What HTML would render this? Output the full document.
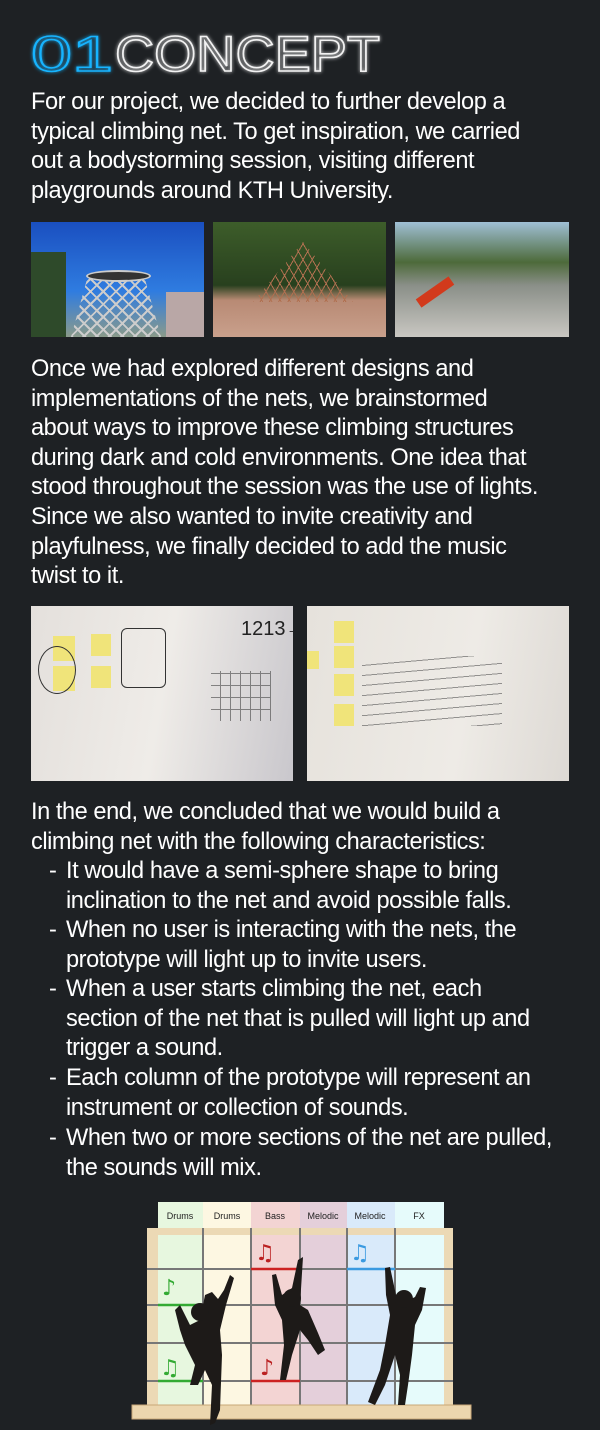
<!DOCTYPE html>
<html><head><meta charset="utf-8"><style>
*{margin:0;padding:0;box-sizing:border-box}
body{width:600px;height:1430px;background:#1e2124;position:relative;overflow:hidden;font-family:"Liberation Sans",sans-serif;color:#fff}
.t{position:absolute;left:31px;font-size:23.6px;line-height:29.6px;white-space:nowrap;letter-spacing:-0.45px;font-weight:normal}
.b{position:absolute;left:66px;font-size:23.6px;line-height:29.6px;white-space:nowrap;letter-spacing:-0.45px}
.b span{position:absolute;left:-17px}
.ph{position:absolute;overflow:hidden}
</style></head><body>
<svg style="position:absolute;left:0;top:0" width="600" height="90">
<defs><filter id="g"><feGaussianBlur stdDeviation="1.8" result="b"/><feMerge><feMergeNode in="b"/><feMergeNode in="SourceGraphic"/></feMerge></filter></defs>
<g filter="url(#g)" font-family="Liberation Sans, sans-serif" font-size="50" stroke-width="1.6">
<text x="31" y="71" textLength="82" lengthAdjust="spacingAndGlyphs" fill="none" stroke="#19b4ff">01</text>
<text x="115" y="71" textLength="265" lengthAdjust="spacingAndGlyphs" fill="none" stroke="#f2f2f2">CONCEPT</text>
</g></svg>

<div class="t" style="top:88px">For our project, we decided to further develop a<br>typical climbing net. To get inspiration, we carried<br>out a bodystorming session, visiting different<br>playgrounds around KTH University.</div>

<div class="ph" style="left:31px;top:222px;width:173px;height:115px;background:linear-gradient(180deg,#1a4fc0,#2f7ce0 60%,#8a9a8a)">
<div style="position:absolute;left:0;top:30px;width:35px;height:85px;background:#2e4a2a"></div>
<div style="position:absolute;left:40px;top:50px;width:90px;height:65px;background:repeating-linear-gradient(45deg,#ccc 0 2px,transparent 2px 9px),repeating-linear-gradient(-45deg,#ccc 0 2px,transparent 2px 9px);clip-path:polygon(20% 0,80% 0,100% 100%,0 100%)"></div>
<div style="position:absolute;left:55px;top:48px;width:65px;height:12px;border-radius:50%;background:#333;border:2px solid #ccc"></div>
<div style="position:absolute;left:135px;top:70px;width:38px;height:45px;background:#b9a7a6"></div></div>
<div class="ph" style="left:213px;top:222px;width:173px;height:115px;background:linear-gradient(180deg,#3d5d2a,#28401e 55%,#b88a74 68%,#c9a08c)">
<div style="position:absolute;left:40px;top:20px;width:100px;height:60px;background:repeating-linear-gradient(60deg,#b07050 0 1px,transparent 1px 8px),repeating-linear-gradient(-60deg,#b07050 0 1px,transparent 1px 8px);clip-path:polygon(50% 0,100% 100%,0 100%)"></div></div>
<div class="ph" style="left:395px;top:222px;width:174px;height:115px;background:linear-gradient(180deg,#9fbfd5,#4d6a3a 35%,#8a8f88 55%,#c9c7c2)">
<div style="position:absolute;left:20px;top:65px;width:40px;height:10px;background:#d23a1c;transform:rotate(-35deg)"></div></div>

<div class="t" style="top:355px">Once we had explored different designs and<br>implementations of the nets, we brainstormed<br>about ways to improve these climbing structures<br>during dark and cold environments. One idea that<br>stood throughout the session was the use of lights.<br>Since we also wanted to invite creativity and<br>playfulness, we finally decided to add the music<br>twist to it.</div>

<div class="ph" style="left:31px;top:606px;width:262px;height:175px;background:linear-gradient(100deg,#e4e0dc,#efece8 50%,#c9c7cc)">
<div style="position:absolute;left:22px;top:30px;width:22px;height:25px;background:#f0e47a"></div>
<div style="position:absolute;left:22px;top:60px;width:22px;height:25px;background:#f0e47a"></div>
<div style="position:absolute;left:60px;top:28px;width:20px;height:22px;background:#f0e47a"></div>
<div style="position:absolute;left:60px;top:60px;width:20px;height:22px;background:#f0e47a"></div>
<div style="position:absolute;left:90px;top:22px;width:45px;height:60px;border:1.5px solid #333;border-radius:6px"></div>
<div style="position:absolute;left:7px;top:40px;width:38px;height:48px;border:1.5px solid #333;border-radius:50%"></div>
<div style="position:absolute;left:210px;top:12px;font:20px 'Liberation Sans';color:#222">1213→</div>
<div style="position:absolute;left:180px;top:65px;width:60px;height:50px;background:repeating-linear-gradient(90deg,transparent 0 9px,#444 9px 10px),repeating-linear-gradient(0deg,transparent 0 11px,#444 11px 12px);opacity:.6"></div>
</div>
<div class="ph" style="left:307px;top:606px;width:262px;height:175px;background:linear-gradient(100deg,#e6e2dc,#eeebe6 60%,#ddd9d4)">
<div style="position:absolute;left:27px;top:15px;width:20px;height:22px;background:#f0e47a"></div>
<div style="position:absolute;left:27px;top:40px;width:20px;height:22px;background:#f0e47a"></div>
<div style="position:absolute;left:0;top:45px;width:12px;height:18px;background:#f0e47a"></div>
<div style="position:absolute;left:27px;top:68px;width:20px;height:22px;background:#f0e47a"></div>
<div style="position:absolute;left:27px;top:98px;width:20px;height:22px;background:#f0e47a"></div>
<div style="position:absolute;left:55px;top:50px;width:140px;height:70px;background:repeating-linear-gradient(175deg,transparent 0 9px,#555 9px 10px);opacity:.6"></div>
</div>

<div class="t" style="top:798px">In the end, we concluded that we would build a<br>climbing net with the following characteristics:</div>
<div class="b" style="top:857px"><span>-</span>It would have a semi-sphere shape to bring<br>inclination to the net and avoid possible falls.</div>
<div class="b" style="top:916px"><span>-</span>When no user is interacting with the nets, the<br>prototype will light up to invite users.</div>
<div class="b" style="top:975px"><span>-</span>When a user starts climbing the net, each<br>section of the net that is pulled will light up and<br>trigger a sound.</div>
<div class="b" style="top:1064px"><span>-</span>Each column of the prototype will represent an<br>instrument or collection of sounds.</div>
<div class="b" style="top:1124px"><span>-</span>When two or more sections of the net are pulled,<br>the sounds will mix.</div>

<svg style="position:absolute;left:0;top:1195px" width="600" height="235">
<g font-family="Liberation Sans, sans-serif" font-size="9" fill="#222" text-anchor="middle">
<rect x="158" y="7" width="45" height="26" fill="#e7f7df"/><text x="180" y="24">Drums</text>
<rect x="203" y="7" width="48" height="26" fill="#fdf7e2"/><text x="227" y="24">Drums</text>
<rect x="251" y="7" width="49" height="26" fill="#f3d4d3"/><text x="275" y="24">Bass</text>
<rect x="300" y="7" width="47" height="26" fill="#e4cfda"/><text x="323" y="24">Melodic</text>
<rect x="347" y="7" width="48" height="26" fill="#d9eafa"/><text x="370" y="24">Melodic</text>
<rect x="395" y="7" width="49" height="26" fill="#e6fbfb"/><text x="419" y="24">FX</text>
</g>
<rect x="147" y="33" width="306" height="180" fill="#ecd9b5"/>
<rect x="158" y="40" width="45" height="173" fill="#e7f7df"/>
<rect x="203" y="40" width="48" height="173" fill="#fdf7e2"/>
<rect x="251" y="40" width="49" height="173" fill="#f3d4d3"/>
<rect x="300" y="40" width="47" height="173" fill="#e4cfda"/>
<rect x="347" y="40" width="48" height="173" fill="#d9eafa"/>
<rect x="395" y="40" width="49" height="173" fill="#e6fbfb"/>
<g stroke="#777" stroke-width="2">
<line x1="203" y1="33" x2="203" y2="210"/><line x1="251" y1="33" x2="251" y2="210"/><line x1="300" y1="33" x2="300" y2="210"/><line x1="347" y1="33" x2="347" y2="210"/><line x1="395" y1="33" x2="395" y2="210"/>
<line x1="147" y1="74" x2="453" y2="74"/><line x1="147" y1="110" x2="453" y2="110"/><line x1="147" y1="148" x2="453" y2="148"/><line x1="147" y1="186" x2="453" y2="186"/>
</g>
<g stroke-width="2.5"><line x1="251" y1="74" x2="300" y2="74" stroke="#c22"/><line x1="347" y1="74" x2="395" y2="74" stroke="#3a9ae0"/><line x1="158" y1="110" x2="203" y2="110" stroke="#3a3"/><line x1="158" y1="186" x2="203" y2="186" stroke="#3a3"/><line x1="251" y1="186" x2="300" y2="186" stroke="#c22"/></g>
<rect x="132" y="210" width="339" height="14" fill="#ecd6ae" stroke="#c9a878"/>
<g font-size="22" font-family="DejaVu Sans, sans-serif"><text x="255" y="65" fill="#b22">♫</text><text x="350" y="65" fill="#3a9ae0">♫</text><text x="162" y="100" fill="#3a3">♪</text><text x="160" y="180" fill="#3a3">♫</text><text x="260" y="180" fill="#b22">♪</text></g>
<g fill="#1d1a18">
<path d="M175 115 L180 110 L190 130 L200 125 L205 100 L212 97 L218 104 L224 95 L230 80 L234 83 L226 110 L220 135 L222 160 L220 215 L215 228 L210 230 L212 190 L205 175 L198 190 L190 190 L195 170 L185 150 L180 135 Z"/>
<circle cx="200" cy="117" r="9"/>
<path d="M272 80 L276 79 L282 100 L292 93 L298 65 L303 62 L300 110 L308 115 L318 138 L325 155 L318 160 L308 145 L300 135 L292 160 L286 185 L280 185 L284 150 L282 125 L275 110 Z"/>
<circle cx="292" cy="103" r="9"/>
<path d="M385 73 L390 72 L396 100 L405 107 L415 102 L420 92 L426 93 L422 115 L415 130 L412 160 L408 190 L405 210 L398 210 L400 180 L395 160 L385 190 L375 210 L368 207 L380 175 L385 150 L390 120 L386 100 Z"/>
<circle cx="404" cy="104" r="9"/>
</g>
</svg>
</body></html>
